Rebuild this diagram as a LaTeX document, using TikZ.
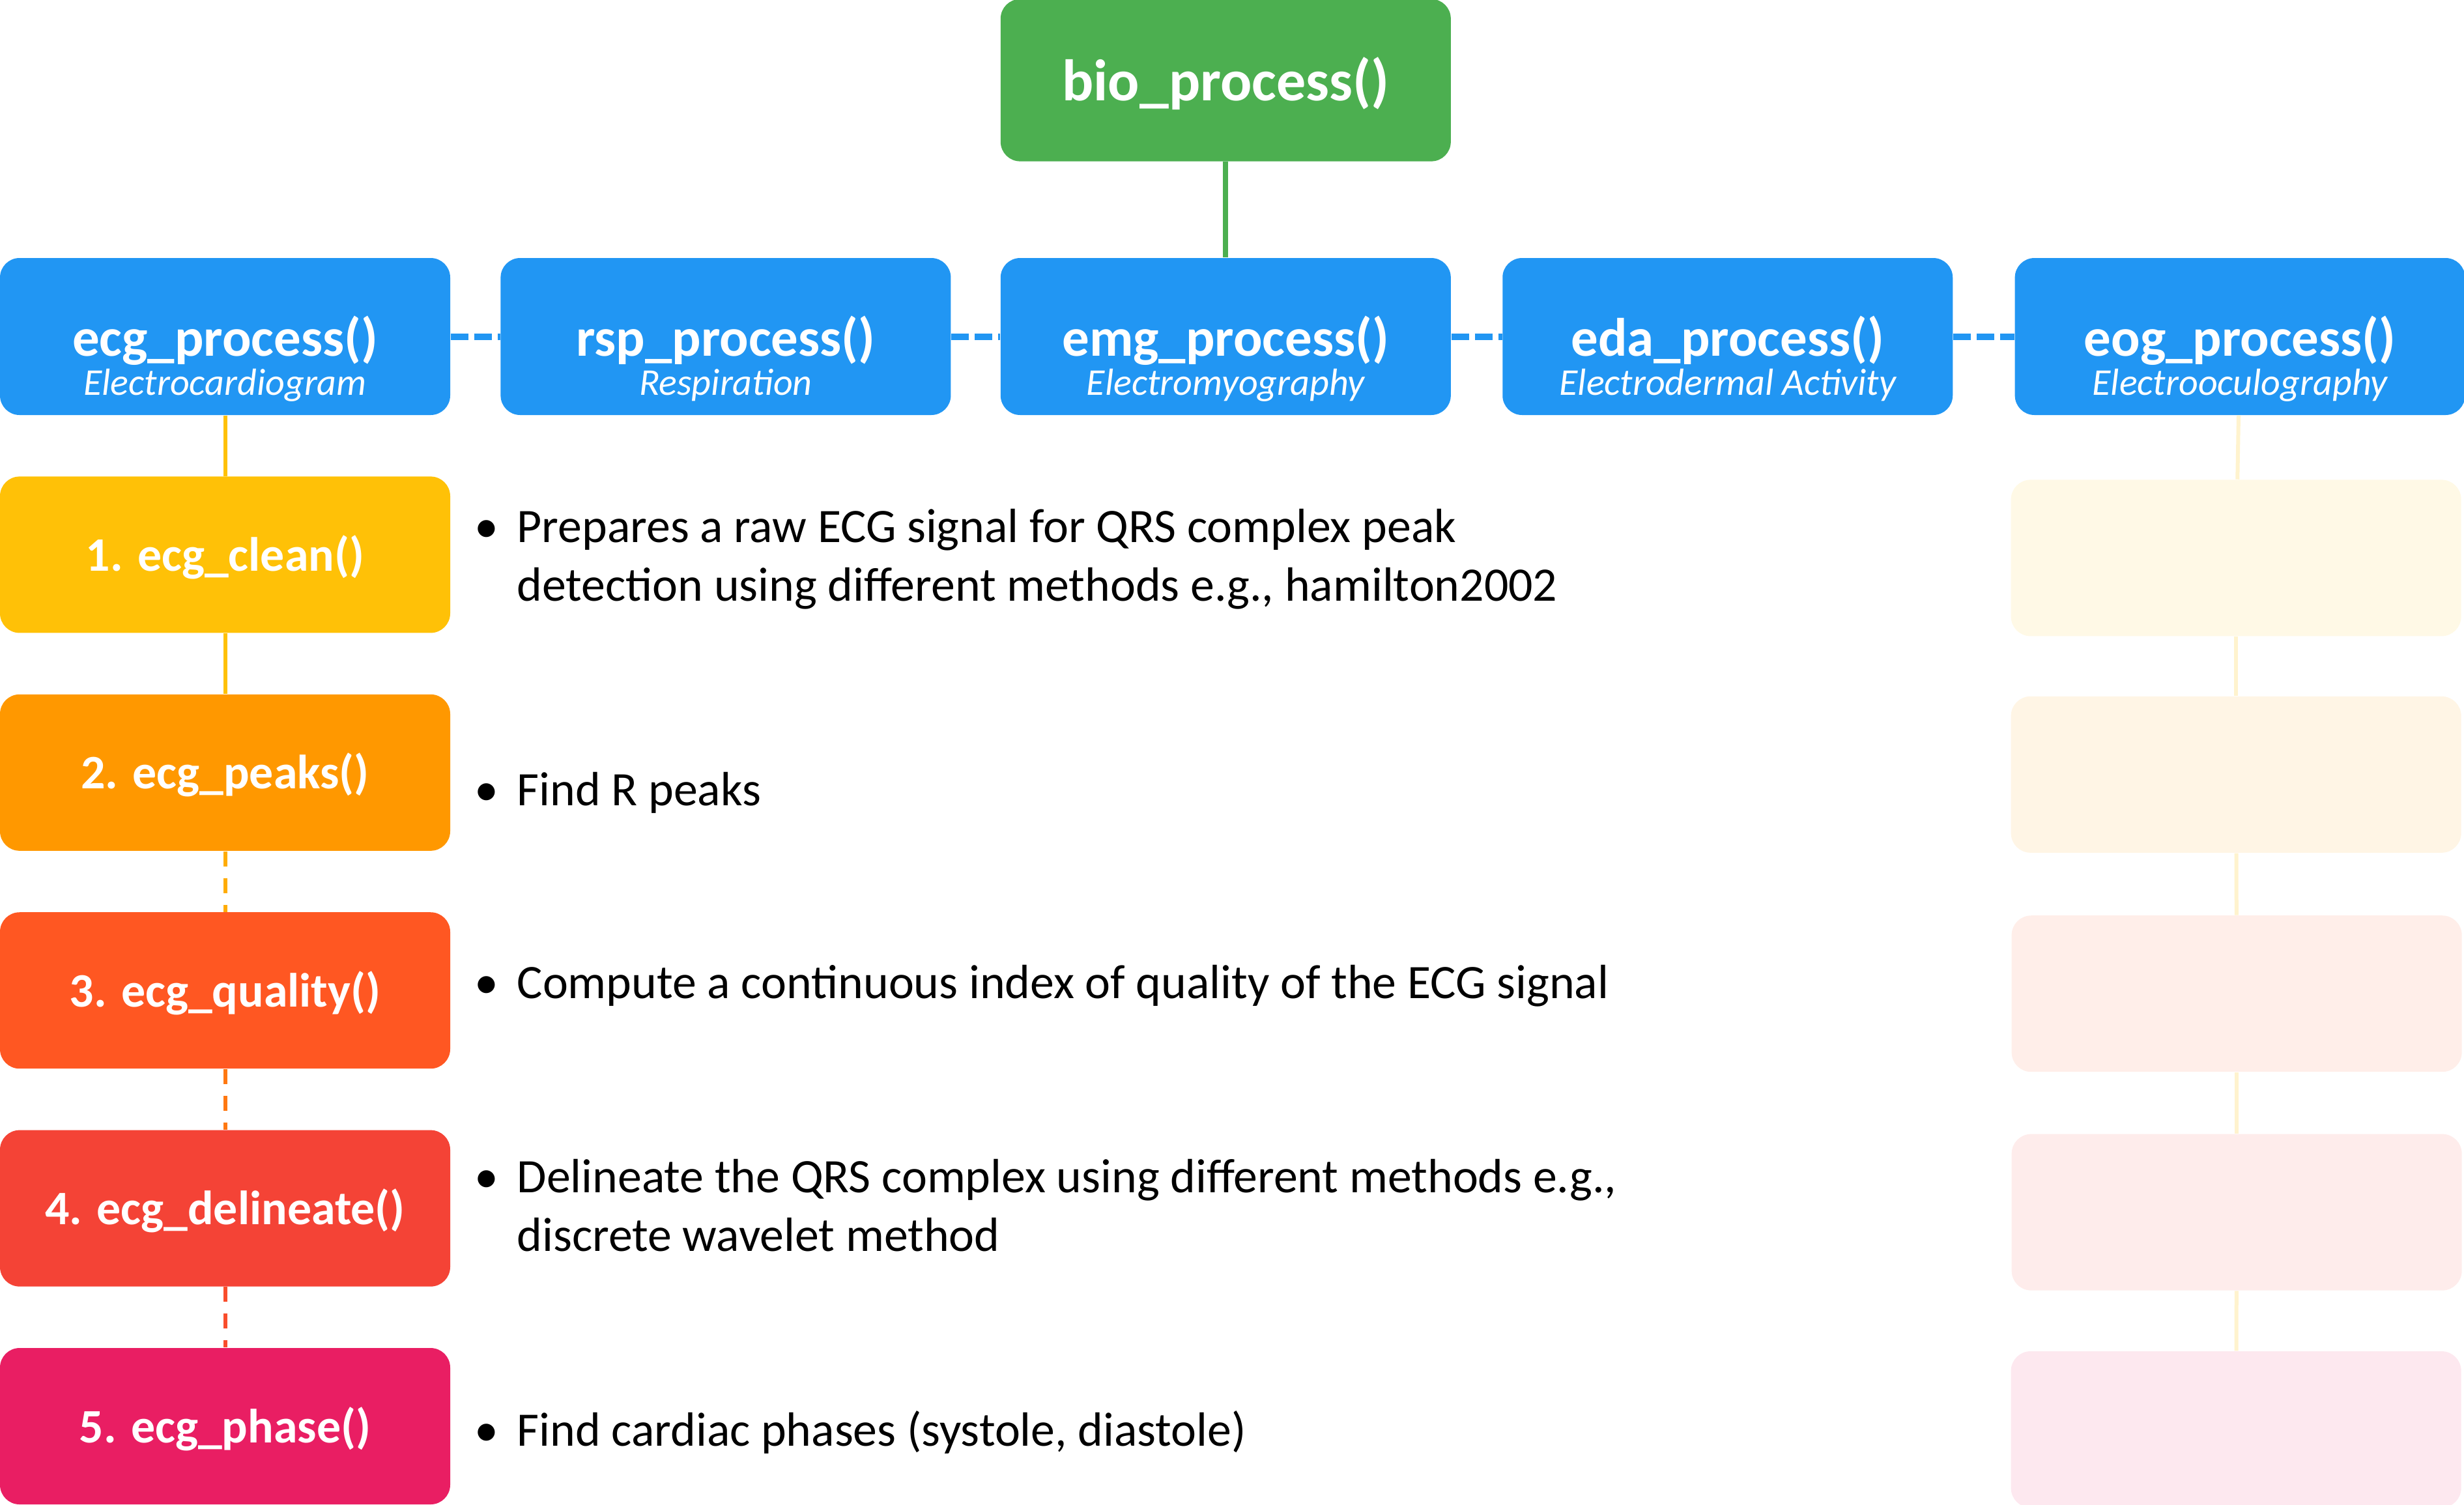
\documentclass[tikz,border=0pt]{standalone}
\usepackage{fontspec}
\setmainfont{Carlito}
\usepackage{xcolor}
\definecolor{procblue}{RGB}{33, 150, 243}
\definecolor{biogreen}{RGB}{76, 175, 80}
\definecolor{stepamber}{RGB}{255, 193, 7}
\definecolor{steporange}{RGB}{255, 152, 0}
\definecolor{stepdeeporange}{RGB}{255, 87, 34}
\definecolor{stepred}{RGB}{244, 67, 54}
\definecolor{steppink}{RGB}{233, 30, 99}
\usepackage{tikz}
\usetikzlibrary{positioning}

\newcommand{\bulletmark}{\makebox[0.65cm][l]{•}}
\newcommand{\bulletgap}{\hspace*{0.65cm}}

\begin{document}
\begin{tikzpicture}[
    node distance=0.93cm,
    box/.style={rounded corners=0.3cm, minimum width=6.91cm, minimum height=2.41cm, inner sep=0pt, text=white},
    biobox/.style={box, fill=biogreen, minimum height=2.49cm, font=\fontsize{25.6}{30}\selectfont\bfseries, text height=0.72cm, text depth=0.1cm},
    procbox/.style={box, fill=procblue, font=\fontsize{23.6}{28}\selectfont\bfseries, text height=0.7cm, text depth=0.1cm},
    procsub/.style={anchor=base, yshift=0.31cm, inner sep=0pt, text=white, font=\fontsize{16.5}{20}\selectfont\itshape},
    stepbox/.style={box, minimum height=2.4cm, font=\fontsize{21}{25}\selectfont\bfseries, text height=0.55cm, text depth=0.05cm},
    ghostbox/.style={box, minimum height=2.4cm},
    desc/.style={anchor=base west, align=left, inner sep=0pt, font=\fontsize{21}{25.5}\selectfont},
    link/.style={line width=0.06cm},
    busline/.style={line width=0.1cm, procblue, dash pattern=on 0.27cm off 0.09cm},
    steplink/.style={line width=0.06cm, dash pattern=on 0.23cm off 0.18cm}
]
    \useasboundingbox (0,0) rectangle (37.82,-23.09);

    \node[procbox, label={[procsub, name=ecgsub]south:Electrocardiogram}] (ecg) at (3.455,-5.165) {ecg\_process()};
    \node[procbox, right=0.76cm of ecg, label={[procsub, name=rspsub]south:Respiration}] (rsp) {rsp\_process()};
    \node[procbox, right=0.75cm of rsp, label={[procsub, name=emgsub]south:Electromyography}] (emg) {emg\_process()};
    \node[procbox, right=0.78cm of emg, label={[procsub, name=edasub]south:Electrodermal Activity}] (eda) {eda\_process()};
    \node[procbox, right=0.94cm of eda, label={[procsub, name=eogsub]south:Electrooculography}] (eog) {eog\_process()};

    \node[biobox, above=1.47cm of emg] (bio) {bio\_process()};

    \node[stepbox, fill=stepamber, below=of ecg] (clean) {1. ecg\_clean()};
    \node[stepbox, fill=steporange, below=of clean] (peaks) {2. ecg\_peaks()};
    \node[stepbox, fill=stepdeeporange, below=of peaks] (quality) {3. ecg\_quality()};
    \node[stepbox, fill=stepred, below=of quality] (delineate) {4. ecg\_delineate()};
    \node[stepbox, fill=steppink, below=of delineate] (phase) {5. ecg\_phase()};

    \node[ghostbox, fill=stepamber!10] (eogclean) at ([xshift=-0.06cm, yshift=-0.05cm]eog |- clean) {};
    \node[ghostbox, fill=steporange!10] (eogpeaks) at ([xshift=-0.06cm, yshift=-0.03cm]eog |- peaks) {};
    \node[ghostbox, fill=stepdeeporange!10] (eogquality) at ([xshift=-0.05cm, yshift=-0.05cm]eog |- quality) {};
    \node[ghostbox, fill=stepred!10] (eogdelineate) at ([xshift=-0.05cm, yshift=-0.06cm]eog |- delineate) {};
    \node[ghostbox, fill=steppink!10] (eogphase) at ([xshift=-0.06cm, yshift=-0.05cm]eog |- phase) {};

    \node[desc] (cleantext) at (7.28,-9.22) {\bulletmark Prepares a raw ECG signal for QRS complex peak\\\bulletgap detection using different methods e.g., hamilton2002};
    \node[desc] (peakstext) at (7.28,-12.36) {\bulletmark Find R peaks};
    \node[desc] (qualitytext) at (7.28,-15.32) {\bulletmark Compute a continuous index of quality of the ECG signal};
    \node[desc] (delineatetext) at (7.28,-19.20) {\bulletmark Delineate the QRS complex using different methods e.g.,\\\bulletgap discrete wavelet method};
    \node[desc] (phasetext) at (7.28,-22.19) {\bulletmark Find cardiac phases (systole, diastole)};

    \draw[link, biogreen, line width=0.08cm] (bio) -- (emg);
    \draw[busline] (ecg) -- (rsp);
    \draw[busline] (rsp) -- (emg);
    \draw[busline] (emg) -- (eda);
    \draw[busline] (eda) -- (eog);

    \draw[link, stepamber] (ecg) -- (clean);
    \draw[link, stepamber] (clean) -- (peaks);
    \draw[steplink, stepamber!50!steporange] (peaks) -- (quality);
    \draw[steplink, steporange!50!stepdeeporange] (quality) -- (delineate);
    \draw[steplink, stepdeeporange!50!stepred] (delineate) -- (phase);

    \draw[link, stepamber!20] (eog) -- (eogclean);
    \draw[link, stepamber!20] (eogclean) -- (eogpeaks);
    \draw[link, stepamber!20] (eogpeaks) -- (eogquality);
    \draw[link, stepamber!20] (eogquality) -- (eogdelineate);
    \draw[link, stepamber!20] (eogdelineate) -- (eogphase);
\end{tikzpicture}
\end{document}
